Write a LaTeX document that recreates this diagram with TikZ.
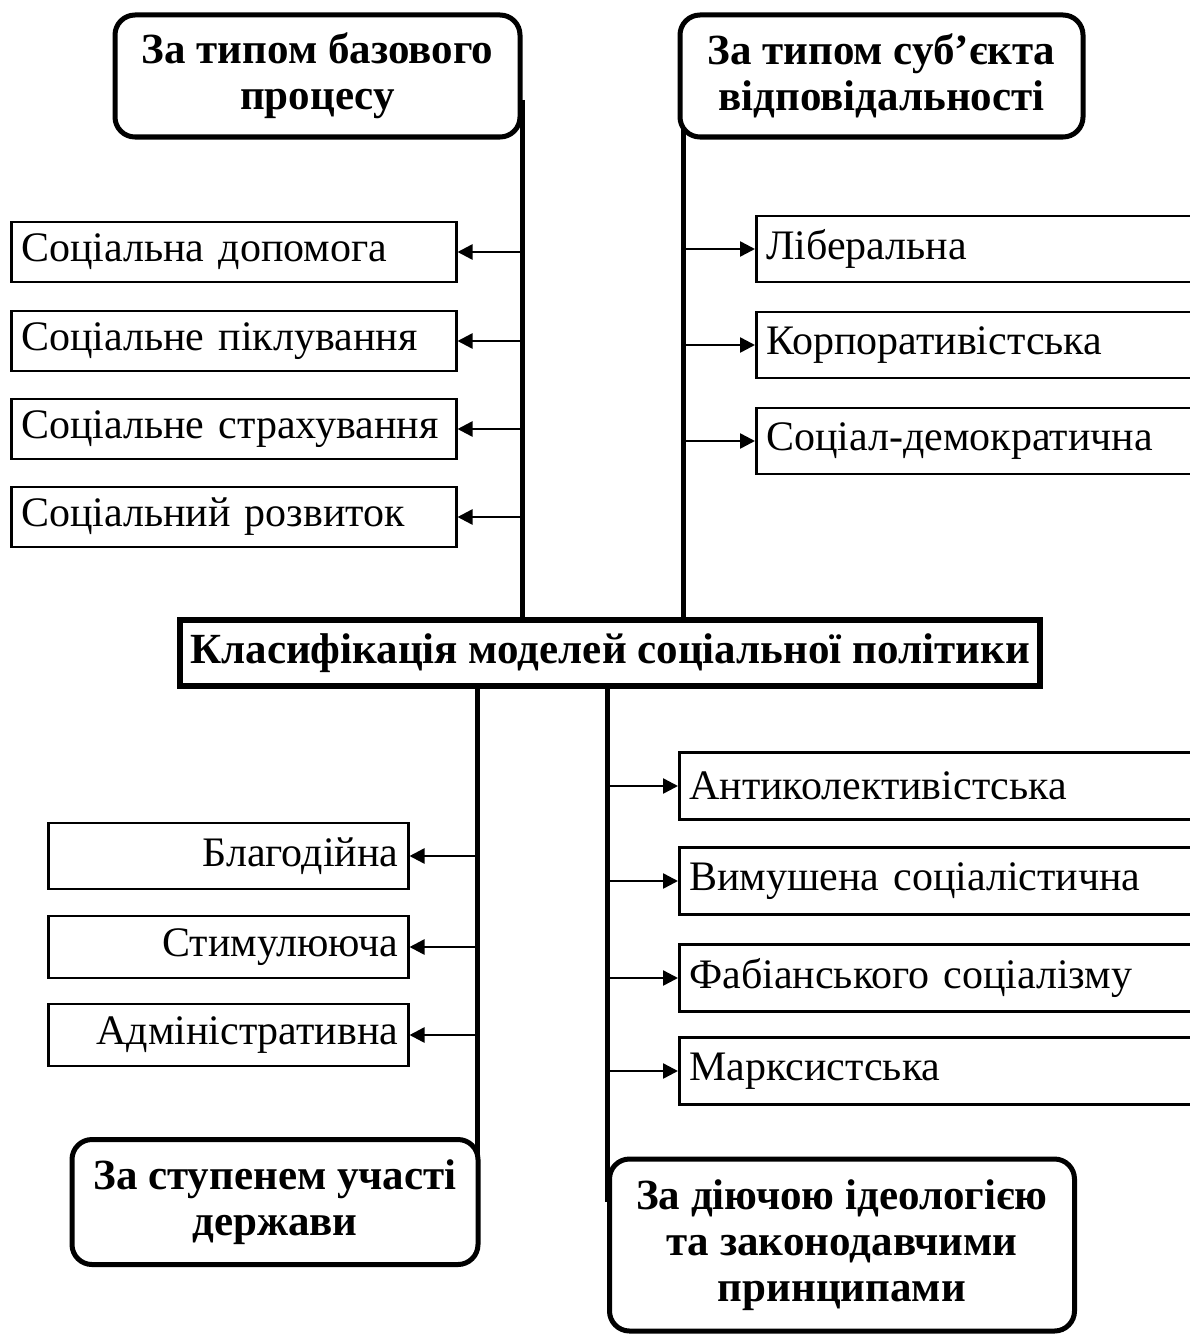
\documentclass[tikz,border=0pt]{standalone}
\usepackage{fontspec}
\setmainfont{Liberation Serif}
\usetikzlibrary{arrows.meta}
\usetikzlibrary{positioning}

\tikzset{
  kind/.style={draw, line width=5pt, rounded corners=20pt, fill=white, align=center,
    inner sep=0pt, font=\fontsize{43}{46}\selectfont\bfseries},
  item/.style={draw, line width=2.5pt, inner xsep=10pt, inner ysep=0pt,
    font=\fontsize{42}{46}\selectfont},
  trunk/.style={line width=5pt},
  arr/.style={line width=2.5pt, -{Triangle[length=15pt,width=15pt]}}
}

\begin{document}
\begin{tikzpicture}[x=1pt,y=-1pt]
\useasboundingbox (0,0) rectangle (1189,1335);

% root
\node[draw, line width=5.5pt, minimum width=860pt, minimum height=66pt, inner sep=0pt,
  font=\fontsize{43}{46}\selectfont\bfseries] (root) at (610,653)
  {Класифікація моделей соціальної політики};

% trunks
\coordinate (tl) at (522,100);
\coordinate (tr) at (683,40);
\coordinate (bl) at (477,1182);
\coordinate (br) at (607,1202);
\draw[trunk] (tl) -- (tl |- root.north);
\draw[trunk] (tr) -- (tr |- root.north);
\draw[trunk] (bl |- root.south) -- (bl);
\draw[trunk] (br |- root.south) -- (br);

% groups
\node[kind, minimum width=405pt, minimum height=122pt] (proc) at (317.5,76)
  {За типом базового\\процесу};
\node[kind, minimum width=403pt, minimum height=122pt] (subj) at (881.5,76)
  {За типом суб’єкта\\відповідальності};
\node[kind, minimum width=406pt, minimum height=125pt] (state) at (275,1202)
  {За ступенем участі\\держави};
\node[kind, minimum width=465pt, minimum height=172pt] (ideo) at (842,1245)
  {За діючою ідеологією\\та законодавчими\\принципами};

% by base process
\node[item, anchor=west, minimum height=60pt, text width=425pt, align=left] (p1) at (10,252) {Соціальна допомога};
\node[item, anchor=west, minimum height=60pt, text width=425pt, align=left] (p2) at (10,341) {Соціальне піклування};
\node[item, anchor=west, minimum height=60pt, text width=425pt, align=left] (p3) at (10,429) {Соціальне страхування};
\node[item, anchor=west, minimum height=60pt, text width=425pt, align=left] (p4) at (10,517) {Соціальний розвиток};
\foreach \n in {p1,p2,p3,p4}
  \draw[arr] (\n -| tl) -- (\n.east);

% by subject
\node[item, anchor=west, minimum height=66pt, text width=440pt, align=left] (s1) at (755,249) {Ліберальна};
\node[item, anchor=west, minimum height=66pt, text width=440pt, align=left] (s2) at (755,345) {Корпоративістська};
\node[item, anchor=west, minimum height=66pt, text width=440pt, align=left] (s3) at (755,441) {Соціал-демократична};
\foreach \n in {s1,s2,s3}
  \draw[arr] (\n -| tr) -- (\n.west);

% by state role
\node[item, anchor=west, minimum height=66pt, text width=340pt, align=right] (d1) at (47,856) {Благодійна};
\node[item, anchor=west, minimum height=62pt, text width=340pt, align=right] (d2) at (47,947) {Стимулююча};
\node[item, anchor=west, minimum height=62pt, text width=340pt, align=right] (d3) at (47,1035) {Адміністративна};
\foreach \n in {d1,d2,d3}
  \draw[arr] (\n -| bl) -- (\n.east);

% by ideology
\node[item, anchor=west, minimum height=67pt, text width=517pt, align=left] (i1) at (678,786) {Антиколективістська};
\node[item, anchor=west, minimum height=67pt, text width=517pt, align=left] (i2) at (678,881) {Вимушена соціалістична};
\node[item, anchor=west, minimum height=67pt, text width=517pt, align=left] (i3) at (678,978) {Фабіанського соціалізму};
\node[item, anchor=west, minimum height=67pt, text width=517pt, align=left] (i4) at (678,1071) {Марксистська};
\foreach \n in {i1,i2,i3,i4}
  \draw[arr] (\n -| br) -- (\n.west);
\end{tikzpicture}
\end{document}
